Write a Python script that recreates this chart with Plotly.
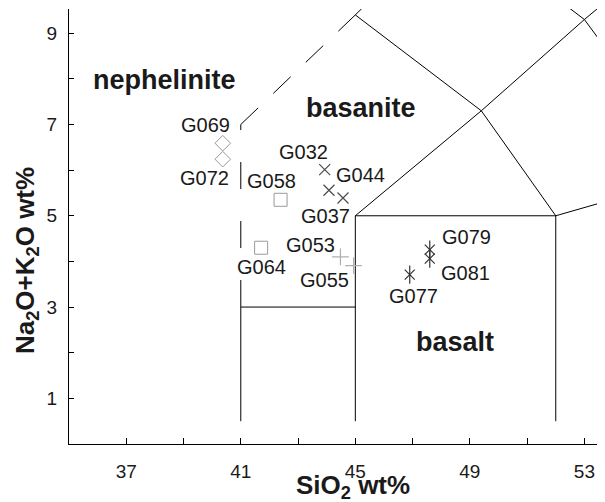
import plotly.graph_objects as go

# ---- sample data (SiO2 wt%, Na2O+K2O wt%) ----
dia_names = ["G069", "G072"]
dia_sio2 = [40.37, 40.37]
dia_alk = [6.59, 6.24]

sq_names = ["G058", "G064"]
sq_sio2 = [42.39, 41.71]
sq_alk = [5.35, 4.30]

x_names = ["G032", "G044", "G037"]
x_sio2 = [43.93, 44.08, 44.57]
x_alk = [6.01, 5.56, 5.39]

plus_names = ["G053", "G055"]
plus_sio2 = [44.48, 44.94]
plus_alk = [4.10, 3.91]

ast_names = ["G079", "G081", "G077"]
ast_sio2 = [47.60, 47.60, 46.90]
ast_alk = [4.26, 4.06, 3.71]

# ---- TAS field boundaries (SiO2, alkali) ----
solid_lines = [
    ([41, 41, 45], [0.5, 3, 3]),
    ([45, 45, 52, 52], [0.5, 5, 5, 0.5]),
    ([52, 57], [5, 5.9]),
    ([45, 49.4, 53, 57.6], [5, 7.3, 9.3, 11.7]),
    ([52, 49.4, 45, 48.4], [5, 7.3, 9.4, 11.5]),
    ([57, 53, 48.4], [5.9, 9.3, 11.5]),
]
dashed_vertical = ([41, 41], [3, 7])
dashed_diagonal = ([41, 45], [7, 9.4])

field_names = ["nephelinite", "basanite", "basalt"]
field_x = [38.33, 45.2, 48.48]
field_y = [7.98, 7.37, 2.23]

x_major = [37, 41, 45, 49, 53]
x_minor = [39, 43, 47, 51]
y_major = [1, 3, 5, 7, 9]
y_minor = [2, 4, 6, 8]

FONT = "Liberation Sans, Arial, sans-serif"

fig = go.Figure()

for xs, ys in solid_lines:
    fig.add_trace(go.Scatter(x=xs, y=ys, mode="lines",
                             line=dict(color="black", width=1),
                             hoverinfo="skip", showlegend=False))
fig.add_trace(go.Scatter(x=dashed_vertical[0], y=dashed_vertical[1], mode="lines",
                         line=dict(color="black", width=1, dash="27px,32px"),
                         hoverinfo="skip", showlegend=False))
fig.add_trace(go.Scatter(x=dashed_diagonal[0], y=dashed_diagonal[1], mode="lines",
                         line=dict(color="black", width=1, dash="24px,21px"),
                         hoverinfo="skip", showlegend=False))

def markers(xs, ys, symbol, size, color, width=1):
    fig.add_trace(go.Scatter(x=xs, y=ys, mode="markers",
                             marker=dict(symbol=symbol, size=size, color=color,
                                         line=dict(color=color, width=width)),
                             showlegend=False))

markers(dia_sio2, dia_alk, "diamond-open", 12, "#999999")
markers(sq_sio2, sq_alk, "square-open", 13, "#9a9a9a")
markers(x_sio2, x_alk, "x-thin-open", 11, "#4a4a4a", 1.2)
markers(plus_sio2, plus_alk, "cross-thin-open", 12, "#b0b0b0", 1.2)
markers(ast_sio2, ast_alk, "x-thin-open", 10, "#333333", 1.2)
markers(ast_sio2, ast_alk, "line-ns-open", 13, "#333333", 1.2)

# label offsets in pixels (dx right, dy up)
label_offsets = {
    "G069": (-17, 18), "G072": (-18, -19),
    "G058": (-9, 19), "G064": (0, -19),
    "G032": (-21, 18), "G044": (32, 15), "G037": (-18, -18),
    "G053": (-30, 12), "G055": (-29, -14),
    "G079": (37, 13), "G081": (36, -14), "G077": (4, -21),
}

annotations = []
for names, xs, ys in [(dia_names, dia_sio2, dia_alk), (sq_names, sq_sio2, sq_alk),
                      (x_names, x_sio2, x_alk), (plus_names, plus_sio2, plus_alk),
                      (ast_names, ast_sio2, ast_alk)]:
    for n, xv, yv in zip(names, xs, ys):
        dx, dy = label_offsets[n]
        annotations.append(dict(x=xv, y=yv, xref="x", yref="y", text=n,
                                showarrow=False, xshift=dx, yshift=dy,
                                font=dict(family=FONT, size=20, color="#1a1a1a")))

for n, xv, yv in zip(field_names, field_x, field_y):
    annotations.append(dict(x=xv, y=yv, xref="x", yref="y", text="<b>%s</b>" % n,
                            showarrow=False,
                            font=dict(family=FONT, size=27, color="#1a1a1a")))

# page has an 8px body margin: figure is drawn from (8, 8) in the window
OFF = 8
W, H = 605 - OFF, 502 - OFF
L, R, T, B = 69 - OFF, 0, 9 - OFF, 502 - 444
pw, ph = W - L - R, H - T - B

def paper_x(px):
    return (px - OFF - L) / pw

def paper_y(py):
    return ((H - (py - OFF)) - B) / ph

annotations.append(dict(x=paper_x(353), y=paper_y(487), xref="paper", yref="paper",
                        xanchor="center", yanchor="middle",
                        text="<b>SiO<sub>2</sub> wt%</b>", showarrow=False,
                        font=dict(family=FONT, size=26, color="#1a1a1a")))
annotations.append(dict(x=paper_x(26), y=paper_y(261), xref="paper", yref="paper",
                        xanchor="center", yanchor="middle",
                        text="<b>Na<sub>2</sub>O+K<sub>2</sub>O wt%</b>", showarrow=False,
                        textangle=-90,
                        font=dict(family=FONT, size=26, color="#1a1a1a")))

fig.update_layout(
    width=W, height=H,
    margin=dict(l=L, r=R, t=T, b=B, autoexpand=False),
    paper_bgcolor="white", plot_bgcolor="white",
    annotations=annotations,
    xaxis=dict(range=[35, 53.72], showgrid=False, zeroline=False,
               showline=True, linecolor="black", linewidth=1,
               ticks="inside", ticklen=6, tickcolor="black",
               tickvals=x_major, ticktext=[str(v) for v in x_major],
               minor=dict(tickvals=x_minor, ticks="inside", ticklen=6,
                          tickcolor="black", showgrid=False),
               ticklabelstandoff=10,
               tickfont=dict(family=FONT, size=19, color="#1a1a1a")),
    yaxis=dict(range=[0, 9.53], showgrid=False, zeroline=False,
               showline=True, linecolor="black", linewidth=1,
               ticks="inside", ticklen=5, tickcolor="black",
               tickvals=y_major, ticktext=[str(v) for v in y_major],
               minor=dict(tickvals=y_minor, ticks="inside", ticklen=5,
                          tickcolor="black", showgrid=False),
               ticklabelstandoff=7,
               tickfont=dict(family=FONT, size=19, color="#1a1a1a")),
)

fig.write_html("out.html")
